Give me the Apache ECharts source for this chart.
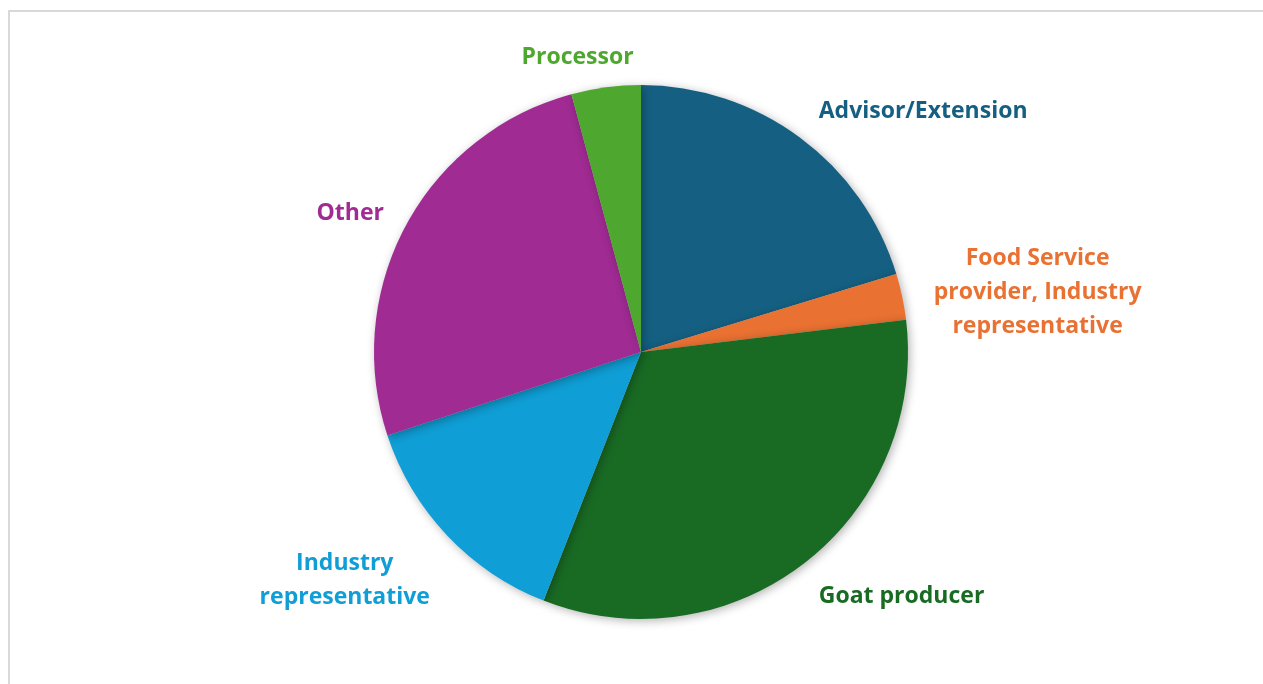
<!DOCTYPE html>
<html>
<head>
<meta charset="utf-8">
<script src="https://cdn.jsdelivr.net/npm/echarts@6/dist/echarts.min.js"></script>
<style>
  html, body { margin: 0; padding: 0; background: #fff; }
  #chart { width: 1263px; height: 684px; }
  #frame {
    position: absolute; left: 8px; top: 10px; right: -10px; bottom: -10px;
    border-top: 2px solid #d9d9d9; border-left: 2px solid #d9d9d9;
    pointer-events: none;
  }
</style>
</head>
<body>
<div id="chart"></div>
<div id="frame"></div>
<script>
// === DATA ===
const categories = [
  'Advisor/Extension',
  'Food Service\nprovider, Industry\nrepresentative',
  'Goat producer',
  'Industry\nrepresentative',
  'Other',
  'Processor'
];
const counts = [29, 4, 47, 20, 37, 6];
const sliceColors = ['#156082', '#E97132', '#196B24', '#0F9ED5', '#A02B93', '#4EA72E'];

// small nudges so the labels sit where the original puts them
const labelNudge = [[-1, -6], [2, 1], [-6, 14], [6, 28], [5, 0], [36, -5]];

// === OPTIONS ===
const chart = echarts.init(document.getElementById('chart'));

const data = categories.map((name, i) => ({
  name: name,
  value: counts[i],
  itemStyle: { color: sliceColors[i] },
  label: { color: sliceColors[i] }
}));

chart.setOption({
  animation: false,
  series: [{
    type: 'pie',
    center: [641, 352],
    radius: 267,
    startAngle: 90,
    clockwise: true,
    avoidLabelOverlap: false,
    data: data,
    itemStyle: {
      borderWidth: 0,
      shadowBlur: 10,
      shadowColor: 'rgba(0,0,0,0.3)',
      shadowOffsetX: 2,
      shadowOffsetY: 2
    },
    label: {
      show: true,
      position: 'outside',
      formatter: '{b}',
      fontFamily: 'Open Sans',
      fontWeight: 'bold',
      fontSize: 23,
      lineHeight: 34
    },
    labelLine: { show: false, length: 25, length2: 0 },
    emphasis: { disabled: true },
    labelLayout: function (p) {
      // centre the lines of each label, keep the box on its own side
      const w = p.labelRect.width;
      const right = p.align === 'left';
      const n = labelNudge[p.dataIndex];
      return { align: 'center', dx: (right ? w / 2 : -w / 2) + n[0], dy: n[1] };
    }
  }]
});
</script>
</body>
</html>
